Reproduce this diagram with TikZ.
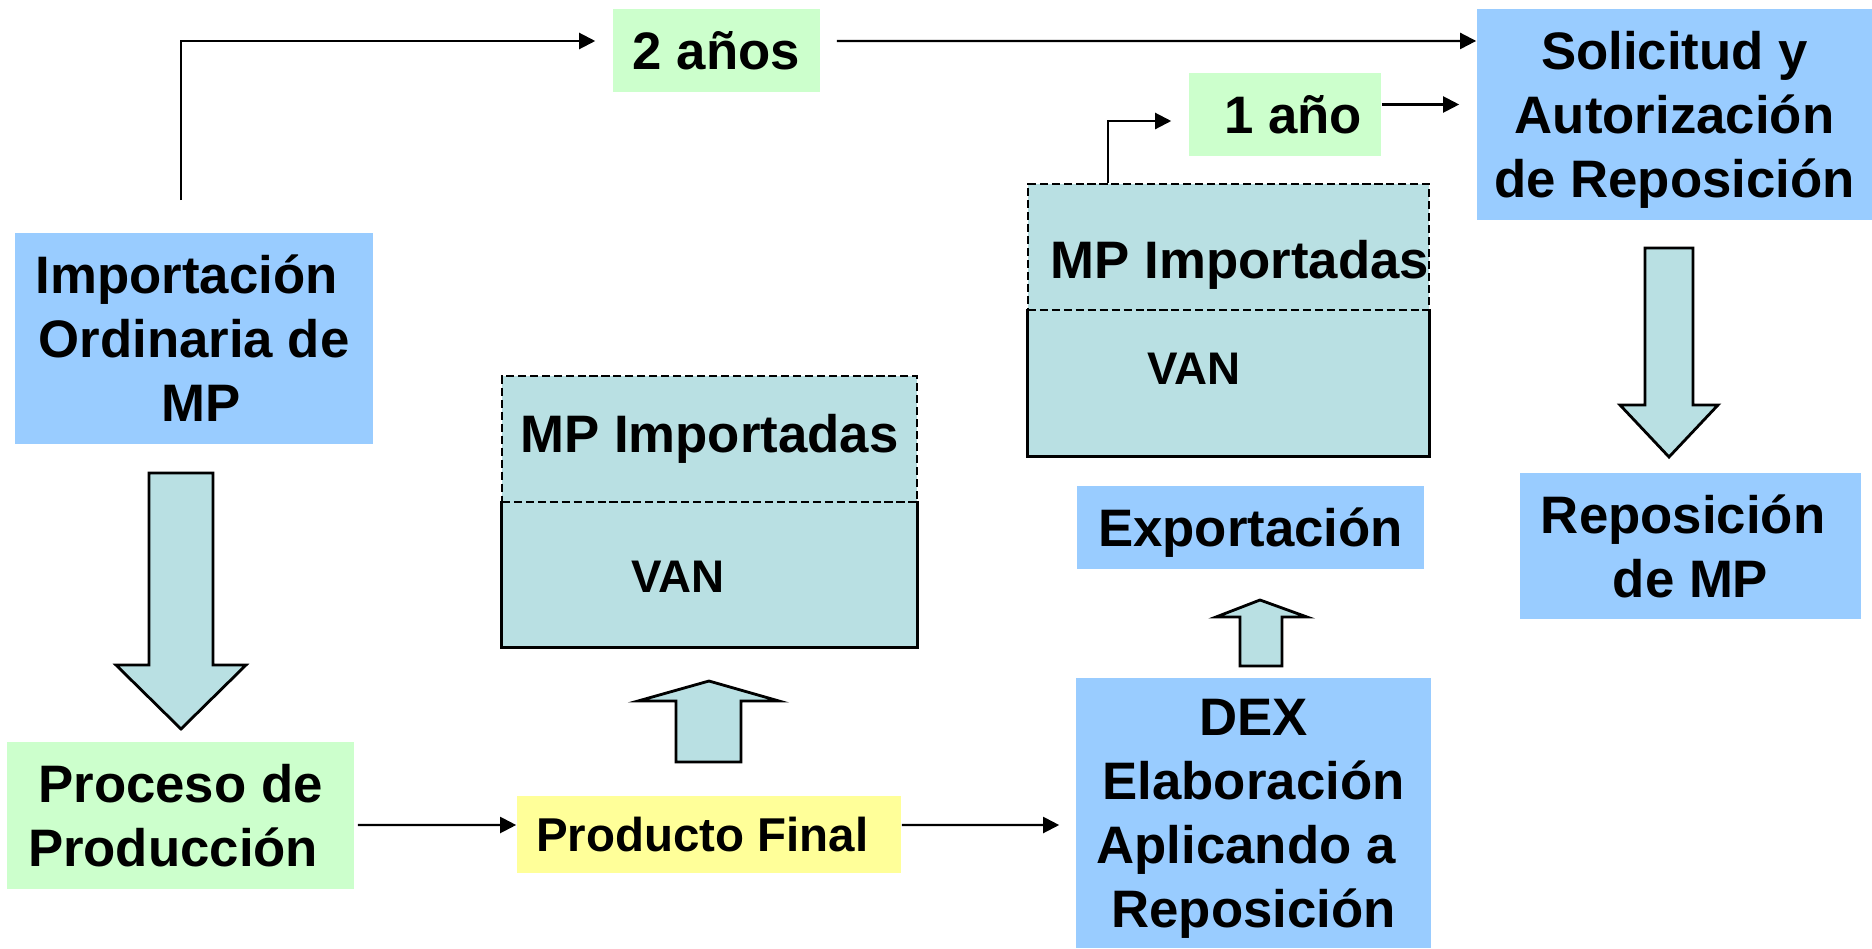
\documentclass[tikz,border=0pt]{standalone}
\usepackage{fontspec}
\setmainfont{Liberation Sans}
\usepackage{tikz}
\usetikzlibrary{arrows.meta}
\usetikzlibrary{positioning}

\definecolor{boxblue}{RGB}{153,204,255}
\definecolor{boxgreen}{RGB}{204,255,204}
\definecolor{boxyellow}{RGB}{255,255,153}
\definecolor{boxteal}{RGB}{185,224,227}

\tikzset{
	box/.style={rectangle, inner sep=0pt, align=center, font=\bfseries\fontsize{15}{18.2}\selectfont},
	smalltext/.style={font=\bfseries\fontsize{13}{15.6}\selectfont},
	cbox/.style={box, text depth=0pt},
	bluebox/.style={cbox, fill=boxblue},
	greenbox/.style={cbox, fill=boxgreen},
	yellowbox/.style={cbox, fill=boxyellow},
	mptop/.style={box, fill=boxteal, draw, line width=0.6pt, dash pattern=on 2.3pt off 1.1pt, minimum height=1.26cm},
	mpbot/.style={rectangle, inner sep=0pt, fill=boxteal, minimum height=1.45cm},
	blockarrow/.style={fill=boxteal, draw, line width=0.8pt},
	flow/.style={->, line width=0.6pt},
}

\begin{document}
\begin{tikzpicture}[x=0.01cm, y=-0.01cm, >={Triangle[length=0.16cm,width=0.16cm]}]
	\useasboundingbox (0,0) rectangle (1872,948);
	
	\node[bluebox, minimum width=3.58cm, minimum height=2.11cm] (imp) at (194,338.5) {Importación\kern0.28em\\Ordinaria de\\\kern0.28em MP};
	\node[greenbox, minimum width=2.07cm, minimum height=0.83cm] (dos) at (716.5,50.5) {2 años};
	\node[bluebox, minimum width=3.95cm, minimum height=2.11cm] (sol) at (1674.5,114.5) {Solicitud y\\Autorización\\de Reposición};
	\node[greenbox, minimum width=1.92cm, minimum height=0.83cm] (uno) at (1285,114.5) {\kern0.16cm 1 año};
	\node[greenbox, minimum width=3.47cm, minimum height=1.47cm] (proc) at (180.5,815.5) {Proceso de\\Producción\kern0.28em};
	\node[yellowbox, font=\bfseries\fontsize{13.5}{16}\selectfont, minimum width=3.84cm, minimum height=0.77cm] (prod) at (709,834.5) {Producto Final\kern0.28em};
	\node[bluebox, minimum width=3.47cm, minimum height=0.83cm] (exp) at (1250.5,527.5) {Exportación};
	\node[bluebox, minimum width=3.55cm, minimum height=2.70cm] (dex) at (1253.5,813) {DEX\\Elaboración\\Aplicando a\kern0.28em\\Reposición};
	\node[bluebox, minimum width=3.41cm, minimum height=1.46cm] (rep) at (1690.5,546) {Reposición\kern0.28em\\de MP};
	
	% MP boxes: dashed top part, solid VAN part
	\node[mpbot, minimum width=4.15cm] (mpMbot) at (709.5,574.5) {};
	\node[mptop, minimum width=4.15cm] (mpMtop) at (709.5,439) {MP Importadas};
	\draw[line width=0.8pt] (mpMbot.north west) -- (mpMbot.south west) -- (mpMbot.south east) -- (mpMbot.north east);
	\node[box, smalltext] (vanM) at (678,576.5) {VAN};
	
	\node[mpbot, minimum width=4.01cm, minimum height=1.46cm] (mpRbot) at (1228.5,383) {};
	\node[mptop, minimum width=4.01cm] (mpRtop) at (1228.5,247) {};
	\draw[line width=0.8pt] (mpRbot.north west) -- (mpRbot.south west) -- (mpRbot.south east) -- (mpRbot.north east);
	\node[box] (mpRlbl) at (1240,264.5) {MP Importadas};
	\node[box, smalltext] (vanR) at (1194,369) {VAN};
	
	% block arrows
	\draw[blockarrow] (149,473) -- (213,473) -- (213,665) -- (246,665) -- (181,729) -- (116,665) -- (149,665) -- cycle;
	\draw[blockarrow] (1645,248) -- (1693,248) -- (1693,405) -- (1718,405) -- (1669,457) -- (1620,405) -- (1645,405) -- cycle;
	\draw[blockarrow] (676,762) -- (741,762) -- (741,701) -- (779,701) -- (709,681) -- (638,701) -- (676,701) -- cycle;
	\draw[blockarrow] (1240,666) -- (1282,666) -- (1282,617) -- (1307,617) -- (1260,600) -- (1216,617) -- (1240,617) -- cycle;
	
	% connectors
	\draw[flow, shorten <=0.32cm] ([xshift=-0.13cm]imp.north) |- ([xshift=-0.17cm,yshift=0.095cm]dos.west);
	\draw[flow, shorten <=0.16cm] ([yshift=0.095cm]dos.east) -- ([yshift=0.735cm]sol.west);
	\draw[flow] ([xshift=-1.205cm]mpRtop.north) |- ([xshift=-0.17cm,yshift=-0.065cm]uno.west);
	\draw[flow] ([yshift=0.1cm]uno.east) -- ([xshift=-0.17cm,yshift=0.1cm]sol.west);
	\draw[flow, shorten <=0.03cm] ([yshift=-0.095cm]proc.east) -- ([yshift=0.095cm]prod.west);
	\draw[flow] ([yshift=0.095cm]prod.east) -- ([xshift=-0.16cm,yshift=-0.12cm]dex.west);
\end{tikzpicture}
\end{document}
